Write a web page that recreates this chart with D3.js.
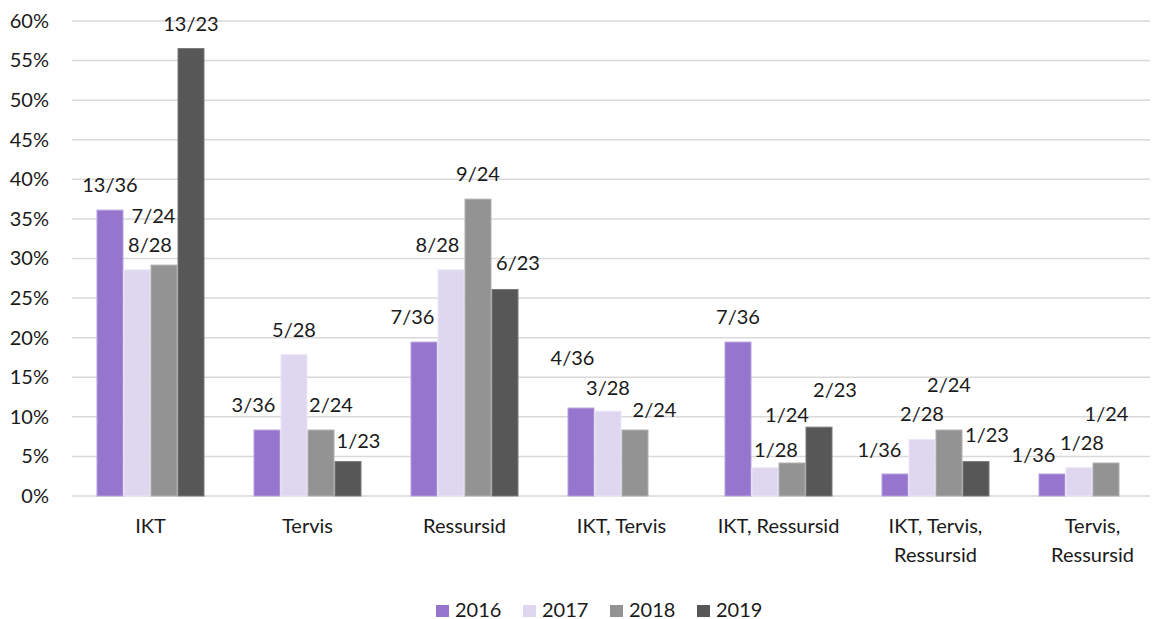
<!DOCTYPE html>
<html>
<head>
<meta charset="utf-8">
<script src="https://cdn.jsdelivr.net/npm/d3@7"></script>
<style>
  html, body { margin: 0; padding: 0; background: #fff; }
  svg { display: block; font-family: "Lato", "Open Sans", sans-serif; }
</style>
</head>
<body>
<svg id="chart" width="1166" height="619"></svg>
<script>
// Categories (labels may wrap onto two lines)
const categories = ["IKT", "Tervis", "Ressursid", "IKT, Tervis", "IKT, Ressursid", "IKT, Tervis, Ressursid", "Tervis, Ressursid"];
const categoryLines = [["IKT"], ["Tervis"], ["Ressursid"], ["IKT, Tervis"], ["IKT, Ressursid"], ["IKT, Tervis,", "Ressursid"], ["Tervis,", "Ressursid"]];

const years = ["2016", "2017", "2018", "2019"];
// Respondents per year (denominator of each fraction)
const totals = [36, 28, 24, 23];
// Counts per category, one array per year (null = no bar)
const counts2016 = [13, 3, 7, 4, 7, 1, 1];
const counts2017 = [8, 5, 8, 3, 1, 2, 1];
const counts2018 = [7, 2, 9, 2, 1, 2, 1];
const counts2019 = [13, 1, 6, null, 2, 1, null];
const counts = [counts2016, counts2017, counts2018, counts2019];

const yTicks = [0, 0.05, 0.10, 0.15, 0.20, 0.25, 0.30, 0.35, 0.40, 0.45, 0.50, 0.55, 0.60];

// Styling
const colors = ["#9575cd", "#dfd7ef", "#939393", "#575757"];
const edgeColors = ["#b7a2de", "#ece7f6", "#b0b0b0", "#7a7a7a"];
const fontSize = 20;
const textColor = "#1a1a1a";

// Per-label nudges [dx, dy] so overlapping value labels stay readable
const labelNudge = [
  [[0, 0], [-13.5, 0], [-11.5, 0], [-8.5, -25], [0, 0], [-15.5, 1], [-18.5, 6]],
  [[13, 0], [0, 0], [-13.5, 0], [0, 2], [11, 7], [0, 0], [3, 0]],
  [[-10.5, -24], [10, 0], [0, 0], [19.5, 5], [-5, -23], [0, -20], [0.5, -24]],
  [[0, 0], [10.5, 4], [13, -1.5], [0, 0], [16, -12], [11, -1.5], [0, 0]]
];

const svg = d3.select("#chart");
const plotLeft = 72, plotRight = 1171, gridRight = 1150, plotTop = 21, plotBottom = 496;

const x0 = d3.scaleBand().domain(categories).range([plotLeft, plotRight]).paddingInner(0.312).paddingOuter(0.156);
const x1 = d3.scaleBand().domain(years).range([0, x0.bandwidth()]);
const y = d3.scaleLinear().domain([0, 0.6]).range([plotBottom, plotTop]);

// Gridlines
svg.append("g")
  .selectAll("line")
  .data(yTicks)
  .join("line")
  .attr("x1", plotLeft).attr("x2", gridRight)
  .attr("y1", d => y(d)).attr("y2", d => y(d))
  .attr("stroke", "#d9d9d9").attr("stroke-width", 1.5);

// Y axis tick labels
const yAxis = d3.axisLeft(y).tickValues(yTicks).tickFormat(d3.format(".0%")).tickSize(0).tickPadding(0);
const ya = svg.append("g").attr("transform", `translate(49,0)`).call(yAxis);
ya.select(".domain").remove();
ya.selectAll("text").attr("font-size", fontSize).attr("fill", textColor).attr("font-family", "Lato, sans-serif");

// Bars
const rows = [];
years.forEach((yr, j) => {
  categories.forEach((c, i) => {
    const n = counts[j][i];
    if (n == null) return;
    rows.push({ cat: c, ci: i, year: yr, yi: j, n: n, total: totals[j], value: n / totals[j] });
  });
});

svg.append("g")
  .selectAll("rect")
  .data(rows)
  .join("rect")
  .attr("x", d => x0(d.cat) + x1(d.year) + 0.5)
  .attr("width", x1.bandwidth() - 1)
  .attr("y", d => y(d.value))
  .attr("height", d => y(0) - y(d.value))
  .attr("fill", d => colors[d.yi])
  .attr("stroke", d => edgeColors[d.yi])
  .attr("stroke-width", 1);

// Value labels
svg.append("g")
  .selectAll("text")
  .data(rows)
  .join("text")
  .attr("x", d => x0(d.cat) + x1(d.year) + x1.bandwidth() / 2 + labelNudge[d.yi][d.ci][0])
  .attr("y", d => y(d.value) - 18 + labelNudge[d.yi][d.ci][1])
  .attr("text-anchor", "middle")
  .attr("font-size", fontSize)
  .attr("fill", textColor)
  .text(d => `${d.n}/${d.total}`);

// Category labels
const xl = svg.append("g");
categories.forEach((c, i) => {
  const cx = x0(c) + x0.bandwidth() / 2;
  const t = xl.append("text")
    .attr("x", cx)
    .attr("y", 533)
    .attr("text-anchor", "middle")
    .attr("font-size", fontSize)
    .attr("fill", textColor);
  categoryLines[i].forEach((line, k) => {
    t.append("tspan").attr("x", cx).attr("dy", k === 0 ? 0 : 29).text(line);
  });
});

// Legend
const legend = svg.append("g").attr("transform", "translate(436,603)");
years.forEach((yr, j) => {
  const g = legend.append("g").attr("transform", `translate(${j * 87},0)`);
  g.append("rect").attr("y", 2).attr("width", 13).attr("height", 12).attr("fill", colors[j]);
  g.append("text").attr("x", 19).attr("y", 13.5).attr("font-size", fontSize).attr("fill", textColor).text(yr);
});
</script>
</body>
</html>
